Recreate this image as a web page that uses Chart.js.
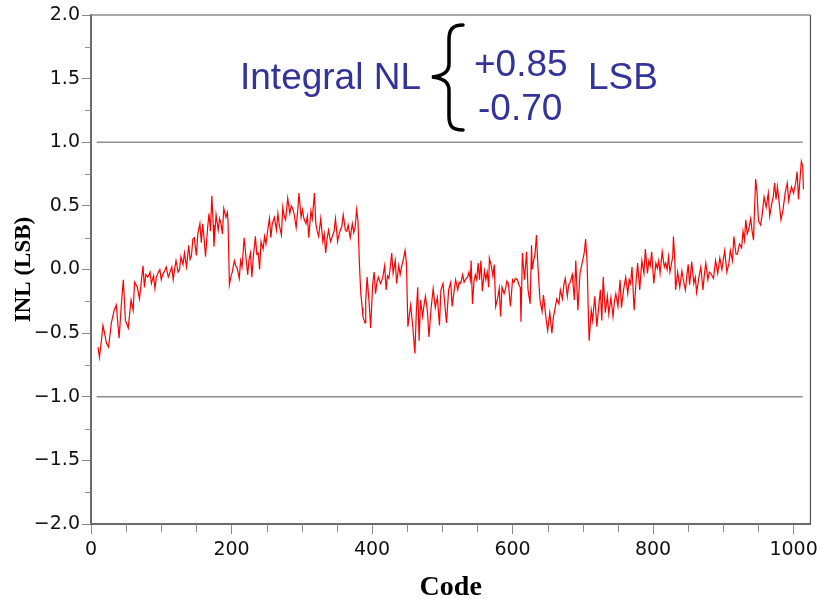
<!DOCTYPE html>
<html>
<head>
<meta charset="utf-8">
<script src="https://cdn.jsdelivr.net/npm/chart.js@4.4.0/dist/chart.umd.min.js"></script>
<style>
  html, body { margin: 0; padding: 0; background: #fff; }
  #wrap { width: 823px; height: 599px; }
</style>
</head>
<body>
<div id="wrap"><canvas id="inlChart" width="823" height="599"></canvas></div>
<script>
const codes = [
  10, 12, 15, 17, 20, 22, 25, 29, 33, 36, 40, 43, 46, 49, 53, 57, 60, 62, 66, 69,
  74, 76, 78, 81, 84, 86, 89, 91, 93, 96, 98, 100, 102, 105, 107, 110, 112, 115, 117, 119,
  121, 124, 126, 128, 131, 133, 136, 139, 141, 143, 145, 147, 150, 152, 155, 157, 159, 161, 163, 166,
  168, 170, 172, 174, 175, 178, 181, 183, 185, 187, 189, 192, 194, 195, 197, 199, 201, 204, 206, 208,
  211, 213, 215, 218, 221, 223, 225, 227, 229, 231, 234, 236, 238, 240, 242, 245, 247, 249, 252, 254,
  256, 258, 261, 264, 266, 268, 271, 273, 275, 277, 280, 283, 285, 287, 289, 292, 294, 296, 299, 301,
  303, 306, 308, 310, 313, 315, 318, 320, 322, 324, 327, 330, 332, 334, 336, 338, 341, 344, 346, 348,
  351, 353, 355, 357, 359, 362, 364, 366, 369, 372, 374, 376, 378, 380, 382, 384, 386, 387, 390, 391,
  393, 396, 398, 401, 403, 405, 407, 409, 412, 415, 418, 420, 422, 424, 426, 428, 430, 433, 435, 438,
  440, 442, 445, 447, 449, 451, 453, 455, 458, 461, 463, 465, 467, 469, 472, 474, 476, 479, 481, 484,
  487, 490, 493, 496, 498, 501, 504, 506, 509, 512, 514, 517, 519, 522, 524, 526, 529, 531, 533, 536,
  538, 540, 541, 543, 545, 547, 549, 551, 553, 555, 557, 560, 562, 564, 566, 567, 570, 572, 574, 576,
  579, 581, 583, 585, 588, 590, 592, 594, 597, 600, 602, 604, 607, 609, 611, 612, 614, 617, 620, 622,
  625, 627, 628, 630, 632, 634, 636, 639, 642, 644, 646, 648, 650, 653, 656, 658, 660, 663, 666, 668,
  671, 673, 675, 678, 680, 682, 685, 686, 688, 690, 693, 696, 699, 702, 704, 706, 708, 709, 712, 714,
  717, 720, 723, 725, 727, 729, 732, 735, 737, 740, 743, 745, 747, 750, 753, 755, 758, 761, 764, 766,
  768, 770, 773, 776, 778, 781, 784, 787, 789, 792, 794, 796, 798, 801, 804, 806, 808, 810, 813, 816,
  818, 820, 822, 824, 826, 828, 829, 831, 832, 835, 838, 841, 844, 846, 848, 850, 852, 855, 858, 860,
  862, 865, 868, 871, 873, 875, 878, 880, 882, 886, 889, 892, 895, 898, 900, 902, 905, 908, 910, 913,
  915, 918, 920, 923, 926, 928, 930, 932, 934, 936, 939, 941, 943, 944, 946, 948, 950, 953, 955, 958,
  961, 964, 966, 969, 971, 973, 975, 977, 979, 982, 985, 988, 991, 993, 995, 997, 1000, 1003, 1005, 1007,
  1009, 1011, 1013, 1014
];
const inl = [
  -0.61, -0.69, -0.55, -0.44, -0.52, -0.58, -0.61, -0.42, -0.32, -0.28, -0.54, -0.29, -0.08, -0.40, -0.46, -0.24, -0.32, -0.10, -0.14, -0.23,
  0.03, -0.14, -0.04, -0.06, -0.02, -0.11, -0.05, -0.15, -0.06, -0.02, 0.00, -0.08, -0.04, -0.01, 0.02, -0.06, -0.03, 0.02, -0.08, 0.00,
  0.07, -0.02, 0.00, 0.10, 0.04, 0.13, 0.02, 0.19, 0.08, 0.11, 0.24, 0.25, 0.11, 0.28, 0.36, 0.21, 0.36, 0.24, 0.10, 0.33,
  0.44, 0.30, 0.58, 0.35, 0.18, 0.43, 0.31, 0.40, 0.36, 0.28, 0.48, 0.41, 0.45, 0.38, -0.12, -0.06, -0.02, 0.07, 0.03, 0.01,
  -0.07, 0.07, 0.02, 0.25, 0.07, -0.04, 0.08, 0.13, -0.06, 0.10, 0.26, 0.12, 0.13, 0.00, 0.22, 0.16, 0.26, 0.20, 0.33, 0.40,
  0.25, 0.36, 0.41, 0.31, 0.44, 0.35, 0.27, 0.49, 0.42, 0.39, 0.56, 0.44, 0.50, 0.48, 0.44, 0.33, 0.45, 0.60, 0.41, 0.47,
  0.40, 0.36, 0.42, 0.25, 0.46, 0.40, 0.60, 0.36, 0.30, 0.26, 0.40, 0.22, 0.28, 0.13, 0.24, 0.31, 0.22, 0.27, 0.30, 0.40,
  0.22, 0.28, 0.31, 0.34, 0.43, 0.31, 0.30, 0.35, 0.25, 0.36, 0.29, 0.33, 0.47, 0.38, 0.05, -0.19, -0.30, -0.37, -0.42, -0.25,
  -0.06, -0.27, -0.46, -0.11, -0.02, -0.19, -0.10, -0.06, -0.11, -0.07, 0.03, -0.16, -0.05, -0.07, 0.02, 0.13, -0.03, 0.07, -0.11, 0.03,
  -0.04, 0.02, 0.09, 0.15, 0.05, -0.45, -0.36, -0.28, -0.45, -0.66, -0.34, -0.14, -0.56, -0.24, -0.37, -0.28, -0.21, -0.34, -0.53, -0.31,
  -0.15, -0.30, -0.22, -0.44, -0.16, -0.11, -0.30, -0.42, -0.16, -0.10, -0.29, -0.16, -0.08, -0.16, -0.10, -0.11, -0.04, -0.10, -0.08, -0.06,
  -0.02, -0.08, 0.07, -0.27, -0.10, -0.04, -0.08, 0.05, -0.08, 0.07, -0.17, -0.01, -0.08, -0.02, -0.14, 0.09, 0.02, -0.05, 0.04, -0.29,
  -0.22, -0.15, -0.37, -0.14, -0.19, -0.15, -0.09, -0.11, -0.29, -0.08, -0.10, -0.07, -0.08, -0.12, -0.14, -0.41, 0.13, -0.08, 0.14, -0.16,
  -0.27, 0.19, 0.00, 0.07, 0.12, 0.27, 0.04, -0.24, -0.33, -0.20, -0.30, -0.40, -0.48, -0.34, -0.50, -0.38, -0.32, -0.23, -0.27, -0.16,
  -0.23, -0.12, -0.07, -0.21, -0.12, -0.10, -0.04, -0.11, -0.24, 0.07, -0.32, -0.03, 0.05, 0.13, 0.24, 0.07, -0.37, -0.56, -0.32, -0.40,
  -0.21, -0.45, -0.27, -0.16, -0.40, -0.06, -0.34, -0.21, -0.35, -0.22, -0.37, -0.25, -0.19, -0.29, -0.08, -0.30, -0.16, -0.06, -0.19, -0.08,
  -0.11, 0.02, -0.32, -0.08, 0.05, -0.16, 0.07, -0.03, 0.16, -0.03, 0.07, 0.03, 0.14, -0.11, 0.05, 0.01, 0.07, -0.03, 0.14, 0.02,
  0.05, 0.00, 0.10, -0.02, 0.04, 0.10, 0.26, 0.07, -0.16, -0.02, -0.14, -0.01, -0.11, -0.16, -0.05, 0.04, -0.12, 0.06, -0.11, -0.06,
  -0.18, -0.07, 0.02, -0.16, -0.04, 0.05, -0.08, -0.02, -0.03, -0.07, 0.07, -0.03, 0.09, 0.00, 0.08, 0.15, -0.02, 0.05, 0.15, 0.07,
  0.26, 0.12, 0.12, 0.20, 0.17, 0.30, 0.23, 0.39, 0.28, 0.31, 0.40, 0.30, 0.23, 0.41, 0.71, 0.60, 0.38, 0.35, 0.42, 0.57,
  0.49, 0.60, 0.42, 0.52, 0.57, 0.68, 0.55, 0.65, 0.55, 0.39, 0.47, 0.60, 0.68, 0.54, 0.60, 0.65, 0.60, 0.68, 0.77, 0.55,
  0.70, 0.85, 0.81, 0.63
];

// ±1 LSB reference lines
const limitCodes = [8, 1013];
const upperLimit = [1, 1];
const lowerLimit = [-1, -1];

// axis ticks
const yMajorTicks = [-2, -1.5, -1, -0.5, 0, 0.5, 1, 1.5, 2];
const xMajorTicks = [0, 200, 400, 600, 800, 1000];

const AXIS_GREY = "#6a6a6a";
const TICK_GREY = "#8a8a8a";
const NOTE_BLUE = "#333399";

const toPoints = (xs, ys) => xs.map((x, i) => ({ x: x, y: ys[i] }));

// minor ticks + frame + the annotation on top
const extrasPlugin = {
  id: "extras",
  afterDraw(chart) {
    const ctx = chart.ctx;
    const area = chart.chartArea;
    const xs = chart.scales.x;
    const ys = chart.scales.y;
    ctx.save();

    // minor ticks
    ctx.strokeStyle = TICK_GREY;
    ctx.lineWidth = 1;
    for (let v = -1.75; v < 2; v += 0.5) {
      const py = Math.round(ys.getPixelForValue(v)) + 0.5;
      ctx.beginPath();
      ctx.moveTo(area.left - 6, py);
      ctx.lineTo(area.left, py);
      ctx.stroke();
    }
    for (let v = 50; v <= 1000; v += 50) {
      if (v % 200 === 0) continue;
      const px = Math.round(xs.getPixelForValue(v)) + 0.5;
      ctx.beginPath();
      ctx.moveTo(px, area.bottom);
      ctx.lineTo(px, area.bottom + 8);
      ctx.stroke();
    }

    // top and right frame
    ctx.strokeStyle = "#8c8c8c";
    ctx.lineWidth = 1.5;
    ctx.beginPath();
    ctx.moveTo(area.left, area.top);
    ctx.lineTo(area.right, area.top);
    ctx.stroke();
    ctx.strokeStyle = "#555555";
    ctx.lineWidth = 1.2;
    ctx.beginPath();
    ctx.moveTo(area.right, area.top);
    ctx.lineTo(area.right, area.bottom);
    ctx.stroke();

    // annotation text
    ctx.fillStyle = NOTE_BLUE;
    ctx.font = "37px 'Liberation Sans', Arial, sans-serif";
    ctx.textBaseline = "alphabetic";
    ctx.textAlign = "left";
    ctx.fillText("Integral NL", 240, 89);
    ctx.fillText("+0.85", 474, 76);
    ctx.fillText("-0.70", 478, 120);
    ctx.fillText("LSB", 588, 89);

    // curly brace
    ctx.strokeStyle = "#000";
    ctx.lineWidth = 3.5;
    ctx.lineCap = "round";
    ctx.beginPath();
    ctx.moveTo(463, 25);
    ctx.bezierCurveTo(452, 25, 449, 30, 449, 40);
    ctx.lineTo(449, 64);
    ctx.bezierCurveTo(449, 72, 442, 76, 432, 77);
    ctx.bezierCurveTo(442, 78, 449, 82, 449, 90);
    ctx.lineTo(449, 116);
    ctx.bezierCurveTo(449, 126, 452, 130, 463, 130);
    ctx.stroke();

    ctx.restore();
  }
};

const ctx = document.getElementById("inlChart").getContext("2d");
new Chart(ctx, {
  type: "line",
  data: {
    datasets: [
      {
        label: "+1 LSB",
        data: toPoints(limitCodes, upperLimit),
        borderColor: "#8f8f8f",
        borderWidth: 1.5,
        pointRadius: 0,
        order: 2
      },
      {
        label: "-1 LSB",
        data: toPoints(limitCodes, lowerLimit),
        borderColor: "#8f8f8f",
        borderWidth: 1.5,
        pointRadius: 0,
        order: 2
      },
      {
        label: "INL",
        data: toPoints(codes, inl),
        borderColor: "#ff0000",
        borderWidth: 1.2,
        pointRadius: 0,
        tension: 0,
        order: 1
      }
    ]
  },
  options: {
    responsive: false,
    animation: false,
    devicePixelRatio: 1,
    layout: { padding: { top: 15, right: 10, left: 0, bottom: 0 } },
    plugins: {
      legend: { display: false },
      tooltip: { enabled: false }
    },
    scales: {
      x: {
        type: "linear",
        min: 0,
        max: 1024,
        afterFit: (scale) => { scale.height = 75; },
        afterBuildTicks: (scale) => {
          scale.ticks = xMajorTicks.map((v) => ({ value: v }));
        },
        border: { display: true, color: AXIS_GREY, width: 2 },
        grid: {
          drawOnChartArea: false,
          drawTicks: true,
          tickLength: 10,
          tickColor: TICK_GREY,
          tickWidth: 1
        },
        ticks: {
          color: "#111",
          padding: 5,
          maxRotation: 0,
          font: { family: "'DejaVu Sans', sans-serif", size: 19 },
          callback: (v) => String(v)
        },
        title: {
          display: true,
          text: "Code",
          color: "#000",
          font: { family: "'Liberation Serif', 'Times New Roman', serif", size: 28, weight: "bold", lineHeight: 1 },
          padding: { top: 0, bottom: -3 }
        }
      },
      y: {
        type: "linear",
        min: -2,
        max: 2,
        afterFit: (scale) => { scale.width = 91; },
        afterBuildTicks: (scale) => {
          scale.ticks = yMajorTicks.map((v) => ({ value: v }));
        },
        border: { display: true, color: AXIS_GREY, width: 2 },
        grid: {
          drawOnChartArea: false,
          drawTicks: true,
          tickLength: 9,
          tickColor: TICK_GREY,
          tickWidth: 1
        },
        ticks: {
          color: "#111",
          padding: 2,
          font: { family: "'DejaVu Sans', sans-serif", size: 19 },
          callback: (v) => v.toFixed(1).replace("-", "\u2212")
        },
        title: {
          display: true,
          text: "INL (LSB)",
          color: "#000",
          font: { family: "'Liberation Serif', 'Times New Roman', serif", size: 23, weight: "bold", lineHeight: 1 },
          padding: { top: 13, bottom: 0 }
        }
      }
    }
  },
  plugins: [extrasPlugin]
});
</script>
</body>
</html>
